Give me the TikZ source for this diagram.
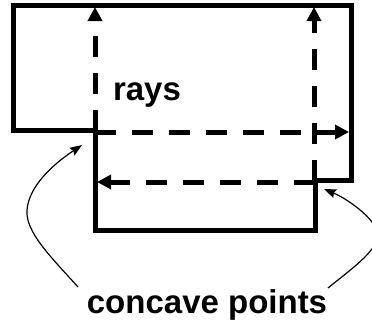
\documentclass[tikz,border=0pt]{standalone}
\usepackage{fontspec}
\setmainfont{Liberation Sans}
\usetikzlibrary{arrows.meta}
\tikzset{
  wall/.style={line width=5pt, line join=miter},
  ray/.style={line width=5pt, dash pattern=on 21pt off 16pt, -{Triangle[length=14pt,width=14pt]}},
  pointer/.style={line width=1.2pt, -{Stealth[length=12pt,width=9pt,inset=1.5pt]}},
  lbl/.style={font=\fontsize{33}{40}\selectfont\bfseries, inner sep=0pt, anchor=base}
}
\begin{document}
\begin{tikzpicture}[x=1pt,y=-1pt]
\clip (0,0) rectangle (372,327);
\fill[white] (0,0) rectangle (372,327);
% outline
\draw[wall] (13,5) -- (351,5) -- (351,180) -- (315,180) -- (315,230) -- (95,230) -- (95,130) -- (13,130) -- cycle;
% concave points and ray ends
\coordinate (cpA) at (95,131);
\coordinate (cpB) at (314,181);
\coordinate (upA) at (95,7);
\coordinate (rightA) at (349,132);
\coordinate (upB) at (314,7);
\coordinate (leftB) at (97,182);
\draw[ray] (cpA) -- (upA);
\draw[ray] (95,132) -- (rightA);
\draw[ray] (cpB) -- (upB);
\draw[ray] (315,182) -- (leftB);
% labels
\node[lbl] (rays) at (147,100) {rays};
\node[lbl] (cc) at (207,313) {concave points};
% pointers
\coordinate (tipA) at (82,145);
\coordinate (tipB) at (324,189);
\draw[pointer] (78,287) .. controls (52,258) and (25,232) .. (27,210) .. controls (29,185) and (55,163) .. (tipA);
\draw[pointer] (328,288) .. controls (350,270) and (376,252) .. (378,236) .. controls (379,222) and (350,200) .. (tipB);
\end{tikzpicture}
\end{document}
